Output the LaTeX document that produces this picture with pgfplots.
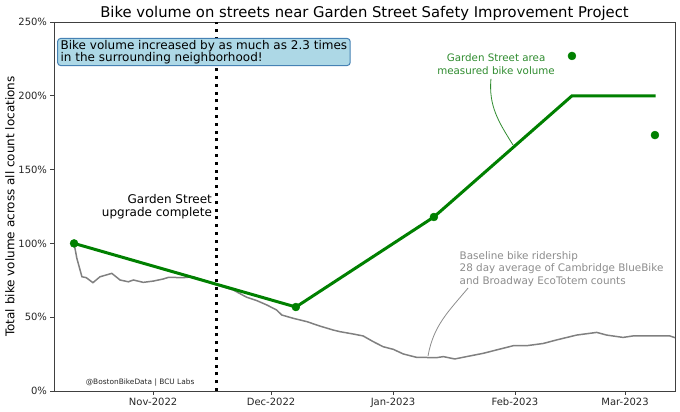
\documentclass[border=0pt]{standalone}
\usepackage{pgfplots}
\pgfplotsset{compat=1.18}
\usepackage{fontspec}
\setmainfont{DejaVu Sans}
\definecolor{mplgreen}{HTML}{008000}
\definecolor{annogreen}{HTML}{2E8B2E}
\definecolor{basegray}{HTML}{808080}
\definecolor{annogray}{HTML}{8C8C8C}
\definecolor{boxfill}{HTML}{ADD8E6}
\definecolor{boxedge}{HTML}{4682B4}
\begin{document}
\begin{tikzpicture}
\path[use as bounding box] (-54bp,-21bp) rectangle (626bp,391bp);
\begin{axis}[
  name=ax,
  at={(0,0)}, anchor=south west,
  scale only axis, width=621bp, height=369bp,
  xmin=-25.2, xmax=132.7, ymin=0, ymax=250,
  xtick={0,30,61,92,120},
  xticklabels={Nov-2022,Dec-2022,Jan-2023,Feb-2023,Mar-2023},
  ytick={0,50,100,150,200,250},
  yticklabels={0\%,50\%,100\%,150\%,200\%,250\%},
  tick align=outside, tick pos=left,
  major tick length=3.5bp,
  axis line style={black!75, line width=0.8bp},
  every tick/.style={black!75, line width=0.8bp},
  ticklabel style={font=\fontsize{10bp}{12bp}\selectfont, text=black!85},
  /pgf/number format/assume math mode=true,
  ylabel={Total bike volume across all count locations},
  ylabel style={font=\fontsize{12bp}{14bp}\selectfont, at={(axis description cs:-0.0709,0.5)}, anchor=center},
]
% baseline gray
\addplot[basegray, line width=1.5bp, no markers] coordinates {
(-20.1,100) (-19.4,90) (-18.1,77.4) (-17.0,76.8) (-15.3,73.4) (-13.5,77.4) (-10.5,79.7)
(-8.4,75.2) (-6.3,74) (-5.0,75.2) (-2.5,73.6) (0.1,74.5) (2.6,75.9) (3.9,77)
(7.7,76.8) (10.2,77.4) (15.3,72.5) (20.4,68.4) (23.8,63.5) (26.4,61.2) (28.9,58.3)
(31.4,54.9) (32.7,51.5) (35.7,49.2) (39.1,47) (42.4,44) (45.8,41.3) (47.5,40.2)
(50.9,38.6) (53.4,37.3) (56.0,33.4) (58.5,30) (61.1,28.2) (63.6,25.1) (67.0,22.8)
(72.1,22.6) (73.8,23.3) (76.7,21.7) (79.7,23.3) (83.9,25.5) (87.3,27.8) (91.6,30.7)
(95.0,30.7) (99.2,32.2) (102.6,34.6) (107.7,37.9) (112.8,39.7) (115.3,37.9) (119.5,36.3)
(122.0,37.3) (127.1,37.3) (131.4,37.3) (132.7,36.1)
};
% green measured line
\addplot[mplgreen, line width=3bp, no markers] coordinates {
(-20.1,100) (36.3,56.9) (71.4,117.9) (106.5,200) (127.8,200)
};
\addplot[only marks, mark=*, mark size=4bp, mplgreen, mark options={draw=mplgreen, fill=mplgreen}] coordinates {
(-20.1,100) (36.3,56.9) (71.4,117.9) (106.5,227) (127.6,173.4)
};
% upgrade line
\draw[black, line width=3bp, dash pattern=on 3bp off 4.8bp] (axis cs:16,0) -- (axis cs:16,250);
\node[anchor=north east, align=right, font=\fontsize{12bp}{12.5bp}\selectfont, inner sep=0pt] at (axis cs:15.0,133.1) {Garden Street\\upgrade complete};
% info box
\node[anchor=north west, align=left, fill=boxfill, draw=boxedge, line width=1bp, rounded corners=3bp,
  font=\fontsize{12bp}{12.5bp}\selectfont, inner xsep=3bp, inner ysep=1.5bp] at (axis cs:-24.4,239.2)
  {Bike volume increased by as much as 2.3 times\\in the surrounding neighborhood!};
% green annotation
\node[align=center, text=annogreen, font=\fontsize{10.3bp}{12.3bp}\selectfont, inner sep=0pt] at (axis cs:87.2,221.5) {Garden Street area\\measured bike volume};
\draw[annogreen, line width=0.8bp] (axis cs:85.9,211.4) to[out=-95, in=122] (axis cs:91.5,166.7);
% gray annotation
\node[anchor=north west, align=left, text=annogray, font=\fontsize{10.4bp}{12.3bp}\selectfont, inner sep=0pt] at (axis cs:77.9,94.5) {Baseline bike ridership\\28 day average of Cambridge BlueBike\\and Broadway EcoTotem counts};
\draw[annogray, line width=0.8bp] (axis cs:80.1,69.8) to[out=-130, in=80] (axis cs:69.9,23.7);
% credits
\node[font=\fontsize{7.4bp}{9bp}\selectfont, text=black!85] at (axis cs:-3.3,5.4) {@BostonBikeData | BCU Labs};
\end{axis}
\node[anchor=base, font=\fontsize{14.8bp}{17bp}\selectfont, inner sep=0pt] at ([yshift=4.7bp]ax.north) {Bike volume on streets near Garden Street Safety Improvement Project};
\end{tikzpicture}
\end{document}
